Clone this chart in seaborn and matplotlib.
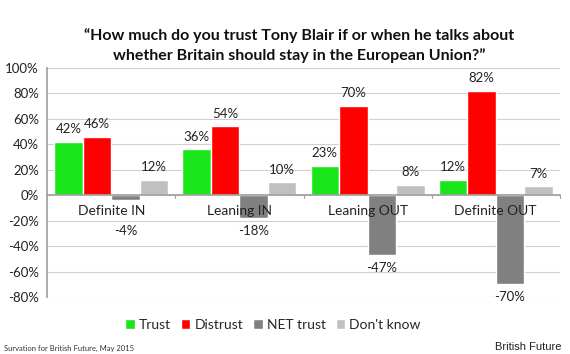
import pandas as pd
import seaborn as sns
from matplotlib import pyplot as plt
from matplotlib.ticker import FuncFormatter

groups = ['Definite IN', 'Leaning IN', 'Leaning OUT', 'Definite OUT']
series = ['Trust', 'Distrust', 'NET trust', "Don't know"]
trust = [42, 36, 23, 12]
distrust = [46, 54, 70, 82]
net_trust = [-4, -18, -47, -70]
dont_know = [12, 10, 8, 7]
colors = ['#19e619', '#ff0000', '#808080', '#c0c0c0']

title = ('\u201cHow much do you trust Tony Blair if or when he talks about\n'
         'whether Britain should stay in the European Union?\u201d')

rows = []
for name, vals in zip(series, [trust, distrust, net_trust, dont_know]):
    for g, v in zip(groups, vals):
        rows.append({'group': g, 'series': name, 'value': v})
df = pd.DataFrame(rows)

sns.set_theme(style='white')
plt.rcParams['font.family'] = ['Lato', 'DejaVu Sans']

fig = plt.figure(figsize=(5.7, 3.54), dpi=100)
ax = fig.add_axes([0.083, 0.161, 0.899, 0.647])

sns.barplot(data=df, x='group', y='value', hue='series', order=groups, hue_order=series,
            palette=colors, width=0.89, gap=0, saturation=1, legend=True, ax=ax, zorder=2)

ax.set_ylim(-80, 100)
ax.set_yticks(range(-80, 101, 20))
ax.yaxis.set_major_formatter(FuncFormatter(lambda v, p: f'{v:.0f}%'))
ax.grid(axis='y', color='#d0d0d0', linewidth=0.8)
ax.set_axisbelow(True)
ax.set_xlim(-0.5, 3.5)
ax.set_xlabel('')
ax.set_ylabel('')

for s in ['top', 'right']:
    ax.spines[s].set_visible(False)
ax.spines['left'].set_color('#a0a0a0')
ax.spines['bottom'].set_color('#a0a0a0')
ax.spines['bottom'].set_position(('data', 0))
ax.spines['bottom'].set_zorder(3)

ax.tick_params(axis='y', labelsize=9.5, colors='#222222', length=0, pad=6)
ax.set_xticks(range(4))
ax.set_xticklabels([])
ax.tick_params(axis='x', length=0)
# category names sit on top of the bars, just under the zero line
for i, g in enumerate(groups):
    ax.text(i, -12.6, g, ha='center', va='center', fontsize=10, color='#222222', zorder=5)
for b in [0.5, 1.5, 2.5, 3.5]:
    ax.plot([b, b], [0, -2.5], color='#a0a0a0', linewidth=0.8, clip_on=False, zorder=3)

for cont in ax.containers:
    for bar in cont:
        h = bar.get_height()
        x = bar.get_x() + bar.get_width() / 2
        y = h + 10 if h >= 0 else min(h - 10, -28.5)
        ax.text(x, y, f'{h:.0f}%', ha='center', va='center', fontsize=9.5, color='#222222', zorder=5)

ax.legend(loc='upper center', bbox_to_anchor=(0.44, -0.07), ncol=4, frameon=False,
          fontsize=10, handlelength=0.7, handleheight=0.7, handletextpad=0.3,
          columnspacing=0.7, borderaxespad=0)

fig.text(0.525, 0.922, title, ha='center', va='top', fontsize=11.5, fontweight='bold',
         color='#111111', linespacing=1.45)
fig.text(0.007, 0.01, 'Survation for British Future, May 2015', fontsize=5.5, color='#333333')
fig.text(0.985, 0.012, 'British Future', fontsize=8, ha='right', color='#222222',
         family='Liberation Sans')

fig.savefig('out.png', dpi=100)
